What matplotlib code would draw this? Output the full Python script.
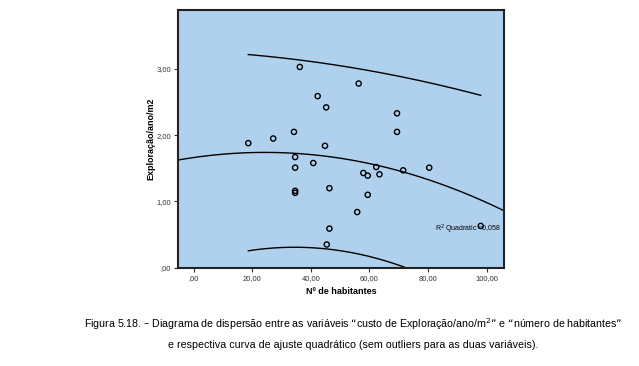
import numpy as np
import matplotlib
matplotlib.use("Agg")
import matplotlib.pyplot as plt

# Data
habitantes = [36.2, 56.3, 42.3, 45.2, 69.4, 69.4, 34.2, 27.1, 18.6, 44.8,
              34.6, 34.6, 40.8, 62.3, 57.9, 59.4, 63.4, 71.5, 80.4,
              34.6, 34.6, 46.3, 59.4, 55.8, 46.3, 45.4, 98.0]
exploracao = [3.03, 2.78, 2.59, 2.42, 2.33, 2.05, 2.05, 1.95, 1.88, 1.84,
              1.67, 1.51, 1.58, 1.52, 1.43, 1.39, 1.41, 1.47, 1.51,
              1.16, 1.13, 1.20, 1.10, 0.84, 0.59, 0.35, 0.63]
# half-width of the drawn prediction interval
band_x = [18.6, 32.8, 36.2, 49.9, 56.8, 70.4, 77.3, 97.8]
band_half = [1.48, 1.42, 1.42, 1.38, 1.42, 1.42, 1.45, 1.58]
x_ticks = [0, 20, 40, 60, 80, 100]
x_ticklabels = [",00", "20,00", "40,00", "60,00", "80,00", "100,00"]
y_ticks = [0, 1, 2, 3]
y_ticklabels = [",00", "1,00", "2,00", "3,00"]
r2_label = "R$^2$ Quadratic =0,058"

plt.rcParams['font.family'] = ['Liberation Sans', 'DejaVu Sans']

fig = plt.figure(figsize=(6.39, 3.66), dpi=100)
ax = fig.add_axes([0.2786, 0.2686, 0.5104, 0.7041])
ax.set_facecolor('#B0D1EE')

x = np.array(habitantes)
y = np.array(exploracao)
xlim = (-5.4, 106)
ylim = (0, 3.89)

coef = np.polyfit(x, y, 2)
xs_full = np.linspace(xlim[0], xlim[1], 300)
ax.plot(xs_full, np.polyval(coef, xs_full), color='black', lw=1.0, zorder=2)

hcoef = np.polyfit(band_x, band_half, 2)
xs = np.linspace(x.min(), x.max(), 300)
fit = np.polyval(coef, xs)
half = np.polyval(hcoef, xs)
ax.plot(xs, fit + half, color='black', lw=1.0, zorder=2)
ax.plot(xs, fit - half, color='black', lw=1.0, zorder=2)

ax.scatter(x, y, s=14, facecolors='none', edgecolors='black', linewidths=1.0, zorder=3)

ax.set_xlim(*xlim)
ax.set_ylim(*ylim)
ax.set_xticks(x_ticks)
ax.set_xticklabels(x_ticklabels)
ax.set_yticks(y_ticks)
ax.set_yticklabels(y_ticklabels)
ax.tick_params(labelsize=5.5, length=3, width=0.8, colors='#333333', pad=2)
for sp in ax.spines.values():
    sp.set_linewidth(1.5)
    sp.set_color('#222222')

ax.set_xlabel("Nº de habitantes", fontsize=6.5, fontweight='bold', labelpad=4)
ax.set_ylabel("Exploração/ano/m2", fontsize=6.5, fontweight='bold', labelpad=1)

ax.text(0.788, 0.147, r2_label, transform=ax.transAxes, fontsize=5, va='center', ha='left')

fig.text(0.553, 0.114, "Figura 5.18. – Diagrama de dispersão entre as variáveis “custo de Exploração/ano/m$^{2}$” e “número de habitantes”",
         ha='center', va='center', fontsize=7.7)
fig.text(0.553, 0.057, "e respectiva curva de ajuste quadrático (sem outliers para as duas variáveis).",
         ha='center', va='center', fontsize=7.7)

fig.savefig("out.png", dpi=100)
